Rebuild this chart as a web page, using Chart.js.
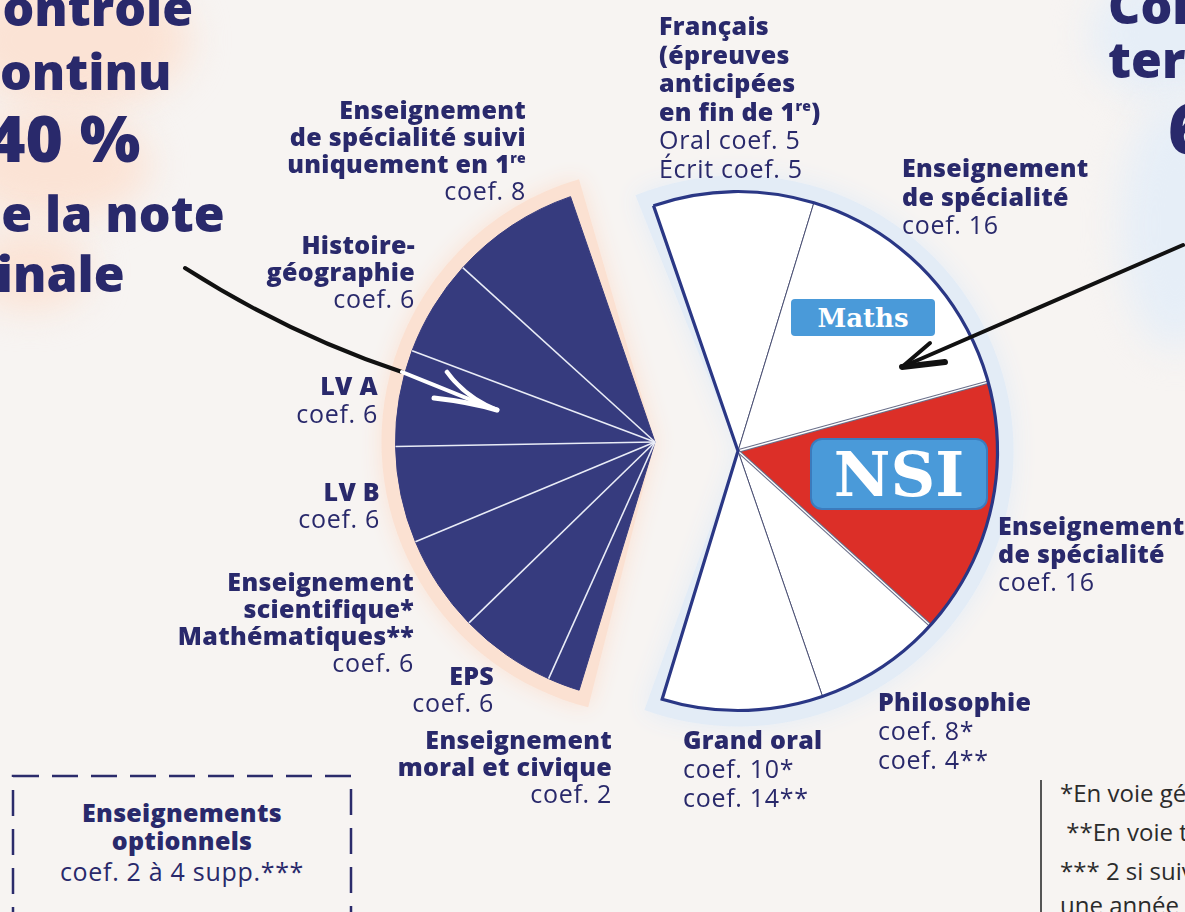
<!DOCTYPE html>
<html lang="fr">
<head>
<meta charset="UTF-8" />
<title>Coefficients du baccalauréat</title>
<script src="https://cdn.jsdelivr.net/npm/chart.js"></script>
<style>
  html, body {
    margin: 0;
    width: 1185px;
    height: 912px;
    overflow: hidden;
    background: #f7f4f2;
    font-family: "Open Sans", sans-serif;
    color: #29296b;
  }
  .blob {
    position: absolute;
    border-radius: 50%;
    filter: blur(18px);
  }
  .box {
    position: absolute;
    width: 600px;
    height: 600px;
  }
  .lab {
    position: absolute;
    font-size: 25px;
    line-height: 27px;
    letter-spacing: 0.7px;
    white-space: nowrap;
  }
  .lab b { font-weight: 800; letter-spacing: 0.3px; }
  .lab sup { font-size: 14px; line-height: 0; vertical-align: 10px; }
  .r { text-align: right; }
  .title {
    position: absolute;
    font-weight: 800;
    font-size: 50px;
    line-height: 50px;
    white-space: nowrap;
  }
  .tag {
    position: absolute;
    background: #4a9ad9;
    color: #fff;
    font-family: "DejaVu Serif", serif;
    font-weight: bold;
    text-align: center;
  }
  .note {
    position: absolute;
    left: 1060px;
    font-size: 24px;
    color: #2b2b2b;
    white-space: nowrap;
  }
  svg { position: absolute; left: 0; top: 0; }
</style>
</head>
<body>

<!-- fonds colorés -->
<div class="blob" style="left:-40px;top:-30px;width:230px;height:140px;background:#fbe3d5;"></div>
<div class="blob" style="left:-40px;top:110px;width:190px;height:110px;background:#fbe3d5;"></div>
<div class="blob" style="left:-30px;top:230px;width:120px;height:80px;background:#fbe3d5;"></div>
<div class="blob" style="left:1090px;top:-30px;width:150px;height:130px;background:#e6eef7;"></div>
<div class="blob" style="left:1120px;top:100px;width:110px;height:250px;background:#e6eef7;"></div>

<div class="box" style="left:355px;top:142px;"><canvas id="leftPie"></canvas></div>
<div class="box" style="left:438px;top:151px;"><canvas id="rightPie"></canvas></div>

<!-- titres coupés -->
<div class="title" style="left:-30px;top:-18px;">Contrôle</div>
<div class="title" style="left:-27px;top:46px;">continu</div>
<div class="title" style="left:-12px;top:106px;font-size:64px;line-height:64px;">40 %</div>
<div class="title" style="left:-31px;top:188px;">de la note</div>
<div class="title" style="left:-24px;top:248px;">finale</div>

<div class="title" style="left:1108px;top:-20px;">Contrôle</div>
<div class="title" style="left:1108px;top:34px;">terminal</div>
<div class="title" style="left:1168px;top:92px;font-size:70px;line-height:70px;">60 %</div>

<!-- étiquettes contrôle continu -->
<div class="lab r" style="right:659px;top:96px;"><b>Enseignement<br>de spécialité suivi<br>uniquement en 1<sup>re</sup></b><br>coef. 8</div>
<div class="lab r" style="right:770px;top:231px;"><b>Histoire-<br>géographie</b><br>coef. 6</div>
<div class="lab r" style="right:807px;top:371px;line-height:28px;"><b>LV A</b><br>coef. 6</div>
<div class="lab r" style="right:805px;top:478px;"><b>LV B</b><br>coef. 6</div>
<div class="lab r" style="right:771px;top:568px;"><b>Enseignement<br>scientifique*<br>Mathématiques**</b><br>coef. 6</div>
<div class="lab r" style="right:691px;top:662px;"><b>EPS</b><br>coef. 6</div>
<div class="lab r" style="right:573px;top:726px;"><b>Enseignement<br>moral et civique</b><br>coef. 2</div>

<!-- étiquettes épreuves terminales -->
<div class="lab" style="left:659px;top:11px;line-height:28.6px;"><b>Français<br>(épreuves<br>anticipées<br>en fin de 1<sup>re</sup>)</b><br>Oral coef. 5<br>Écrit coef. 5</div>
<div class="lab" style="left:902px;top:153px;line-height:28.5px;"><b>Enseignement<br>de spécialité</b><br>coef. 16</div>
<div class="lab" style="left:998px;top:511px;line-height:28px;"><b>Enseignement<br>de spécialité</b><br>coef. 16</div>
<div class="lab" style="left:878px;top:687px;line-height:29px;"><b>Philosophie</b><br>coef. 8*<br>coef. 4**</div>
<div class="lab" style="left:683px;top:725px;line-height:29px;"><b>Grand oral</b><br>coef. 10*<br>coef. 14**</div>

<div class="lab" style="left:12px;top:798px;width:340px;text-align:center;line-height:28px;"><b>Enseignements<br>optionnels</b><br><span style="line-height:34px;">coef. 2 à 4 supp.***</span></div>

<div class="note" style="top:776px;">*En voie générale</div>
<div class="note" style="top:815px;">&nbsp;**En voie technologique</div>
<div class="note" style="top:854px;">*** 2 si suivi pendant</div>
<div class="note" style="top:888px;">une année</div>

<div class="tag" style="left:791px;top:299px;width:144px;height:37px;line-height:38px;font-size:26px;border-radius:4px;">Maths</div>
<div class="tag" style="left:810px;top:438px;width:174px;height:68px;line-height:70px;font-size:62px;border-radius:12px;border:2px solid #3b7bbd;">NSI</div>

<svg width="1185" height="912">
  <rect x="13" y="776" width="338" height="150" fill="none" stroke="#2b2b6b" stroke-width="2.5" stroke-dasharray="26 13"/>
  <line x1="1041" y1="780" x2="1041" y2="912" stroke="#555" stroke-width="2"/>
  <path d="M185,268 Q290,335 402,372" fill="none" stroke="#111" stroke-width="4" stroke-linecap="round"/>
  <path d="M402,372 L496,410" fill="none" stroke="#fff" stroke-width="4" stroke-linecap="round"/>
  <path d="M447,372 Q466,398 497,410" fill="none" stroke="#fff" stroke-width="4.5" stroke-linecap="round"/>
  <path d="M434,398 Q470,402 497,410" fill="none" stroke="#fff" stroke-width="5" stroke-linecap="round"/>
  <path d="M1183,245 L902,367" fill="none" stroke="#111" stroke-width="4" stroke-linecap="round"/>
  <path d="M902,367 L930,343" fill="none" stroke="#111" stroke-width="4" stroke-linecap="round"/>
  <path d="M902,367 L945,362" fill="none" stroke="#111" stroke-width="6" stroke-linecap="round"/>
</svg>

<script>
  // Contrôle continu (40 %), dans le sens horaire depuis le bas
  const ccLabels = ['Enseignement moral et civique', 'EPS', 'Enseignement scientifique / Mathématiques', 'LV B', 'LV A', 'Histoire-géographie', 'Enseignement de spécialité suivi uniquement en 1re'];
  const ccCoefs = [2, 6, 6, 6, 6, 6, 8];

  // Épreuves terminales (60 %), dans le sens horaire depuis le haut
  const etLabels = ['Français', 'Spécialité (Maths)', 'Spécialité (NSI)', 'Philosophie', 'Grand oral'];
  const etCoefs = [10, 16, 16, 8, 10];
  const etColors = ['#ffffff', '#ffffff', '#dc2f28', '#ffffff', '#ffffff'];

  const navy = '#363b7e';
  const edge = '#2a3785';
  const startAngle = -19;   // bord haut commun aux deux demi-disques
  const sum = a => a.reduce((s, v) => s + v, 0);
  const ccTotal = sum(ccCoefs);
  const etTotal = sum(etCoefs);

  function visibleArcs(chart, n) {
    return chart.getDatasetMeta(0).data.slice(0, n);
  }

  // halo derrière un demi-disque
  function haloPlugin(n, color, extra, blur) {
    return {
      id: 'halo',
      beforeDatasetsDraw(chart) {
        const arcs = visibleArcs(chart, n);
        const a0 = arcs[0], a1 = arcs[arcs.length - 1];
        const ctx = chart.ctx;
        ctx.save();
        ctx.fillStyle = color;
        ctx.shadowColor = color;
        ctx.shadowBlur = blur;
        ctx.beginPath();
        ctx.moveTo(a0.x, a0.y);
        ctx.arc(a0.x, a0.y, a0.outerRadius + extra, a0.startAngle - 0.05, a1.endAngle + 0.05);
        ctx.closePath();
        ctx.fill();
        ctx.restore();
      }
    };
  }

  // séparateurs blancs du contrôle continu
  const ccLines = {
    id: 'ccLines',
    afterDatasetsDraw(chart) {
      const arcs = visibleArcs(chart, ccCoefs.length);
      const ctx = chart.ctx;
      ctx.save();
      ctx.strokeStyle = '#e9ecf7';
      ctx.lineWidth = 1.6;
      arcs.slice(1).forEach(a => {
        ctx.beginPath();
        ctx.moveTo(a.x, a.y);
        ctx.lineTo(a.x + Math.cos(a.startAngle) * a.outerRadius, a.y + Math.sin(a.startAngle) * a.outerRadius);
        ctx.stroke();
      });
      ctx.restore();
    }
  };

  // contour épais des épreuves terminales + double trait autour de NSI
  const etOutline = {
    id: 'etOutline',
    afterDatasetsDraw(chart) {
      const arcs = visibleArcs(chart, etCoefs.length);
      const ctx = chart.ctx;
      const a0 = arcs[0], a1 = arcs[arcs.length - 1];
      const r = a0.outerRadius;
      const ray = (a, ang) => [a.x + Math.cos(ang) * r, a.y + Math.sin(ang) * r];
      ctx.save();
      [arcs[2].startAngle, arcs[2].endAngle].forEach(ang => {
        const p = ray(a0, ang);
        ctx.beginPath();
        ctx.moveTo(a0.x, a0.y);
        ctx.lineTo(p[0], p[1]);
        ctx.strokeStyle = '#6a6f8a';
        ctx.lineWidth = 3.5;
        ctx.stroke();
        ctx.strokeStyle = '#ffffff';
        ctx.lineWidth = 1.3;
        ctx.stroke();
      });
      ctx.strokeStyle = edge;
      ctx.lineWidth = 3.2;
      ctx.lineJoin = 'miter';
      ctx.beginPath();
      const p0 = ray(a0, a0.startAngle);
      ctx.moveTo(p0[0], p0[1]);
      ctx.lineTo(a0.x, a0.y);
      const p1 = ray(a0, a1.endAngle);
      ctx.lineTo(p1[0], p1[1]);
      ctx.arc(a0.x, a0.y, r, a1.endAngle, a0.startAngle, true);
      ctx.stroke();
      ctx.restore();
    }
  };

  const common = {
    responsive: true,
    maintainAspectRatio: false,
    animation: false,
    events: [],
    layout: { padding: 40 },
    plugins: { legend: { display: false }, tooltip: { enabled: false } }
  };

  new Chart(document.getElementById('leftPie'), {
    type: 'pie',
    data: {
      labels: [...ccLabels, ''],
      datasets: [{
        data: [...ccCoefs, etTotal],
        backgroundColor: [...ccCoefs.map(() => navy), 'rgba(0,0,0,0)'],
        borderColor: [...ccCoefs.map(() => navy), 'rgba(0,0,0,0)'],
        borderWidth: [...ccCoefs.map(() => 1), 0],
        hoverOffset: 0
      }]
    },
    options: { ...common, rotation: startAngle + 360 * etTotal / (ccTotal + etTotal) },
    plugins: [haloPlugin(ccCoefs.length, '#fbe1d2', 14, 22), ccLines]
  });

  new Chart(document.getElementById('rightPie'), {
    type: 'pie',
    data: {
      labels: [...etLabels, ''],
      datasets: [{
        data: [...etCoefs, ccTotal],
        backgroundColor: [...etColors, 'rgba(0,0,0,0)'],
        borderColor: [...etCoefs.map(() => '#4a4f73'), 'rgba(0,0,0,0)'],
        borderWidth: [...etCoefs.map(() => 1), 0],
        hoverOffset: 0
      }]
    },
    options: { ...common, rotation: startAngle },
    plugins: [haloPlugin(etCoefs.length, '#e3ecf6', 16, 24), etOutline]
  });
</script>
</body>
</html>
